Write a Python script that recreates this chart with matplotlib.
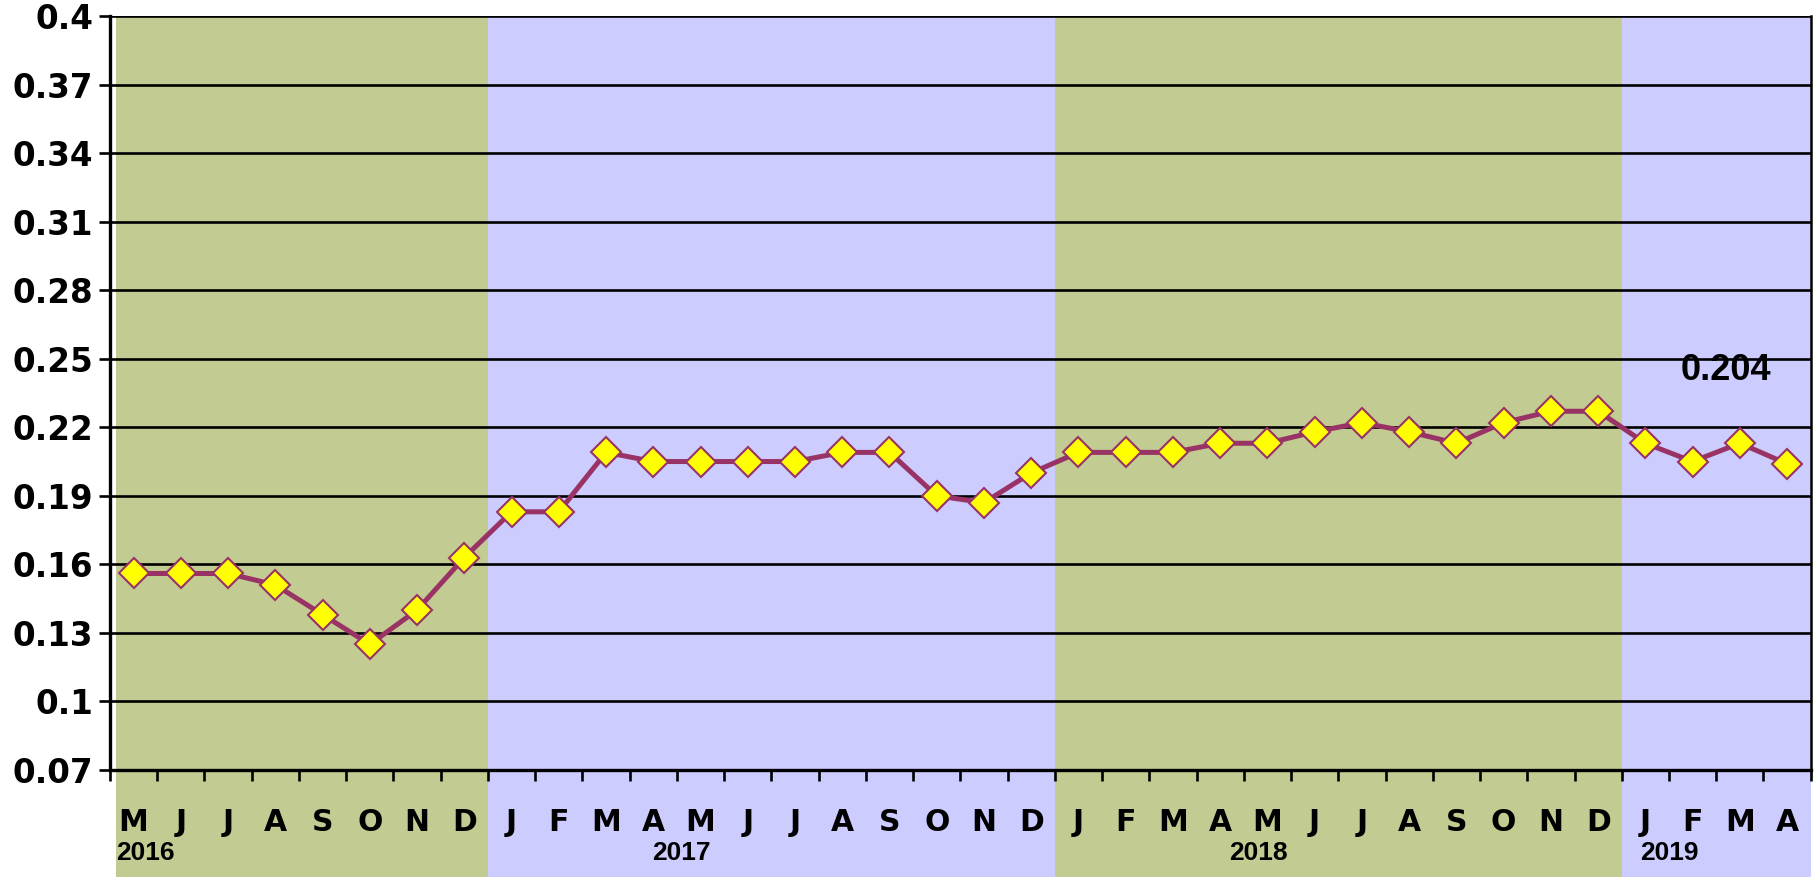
import matplotlib
matplotlib.use('Agg')
from matplotlib import pyplot as plt
from matplotlib.patches import Rectangle

# Месяцы по оси X (май 2016 - апрель 2019)
months = ['M', 'J', 'J', 'A', 'S', 'O', 'N', 'D',
          'J', 'F', 'M', 'A', 'M', 'J', 'J', 'A', 'S', 'O', 'N', 'D',
          'J', 'F', 'M', 'A', 'M', 'J', 'J', 'A', 'S', 'O', 'N', 'D',
          'J', 'F', 'M', 'A']
values = [0.156, 0.156, 0.156, 0.151, 0.138, 0.125, 0.140, 0.163,
          0.183, 0.183, 0.209, 0.205, 0.205, 0.205, 0.205, 0.209, 0.209, 0.190, 0.187, 0.200,
          0.209, 0.209, 0.209, 0.213, 0.213, 0.218, 0.222, 0.218, 0.213, 0.222, 0.227, 0.227,
          0.213, 0.205, 0.213, 0.204]
years = ['2016', '2017', '2018', '2019']
months_per_year = [8, 12, 12, 4]
y_ticks = [0.07, 0.1, 0.13, 0.16, 0.19, 0.22, 0.25, 0.28, 0.31, 0.34, 0.37, 0.4]
y_tick_labels = ['0.07', '0.1', '0.13', '0.16', '0.19', '0.22', '0.25', '0.28',
                 '0.31', '0.34', '0.37', '0.4']
last_label = '0.204'

# Оформление
green = '#C2CB91'
lilac = '#CCCCFF'
plum = '#993366'
year_label_x = [0.25, 11.6, 23.8, 32.5]

fig = plt.figure(figsize=(18.18, 8.77), dpi=100)
ax = fig.add_axes([0.0605, 0.122, 0.9355, 0.8598])
ax.set_facecolor('none')

n = len(months)
ax.set_xlim(-0.5, n - 0.5)
ax.set_ylim(0.07, 0.4)

# Фоновые полосы по годам (тянутся до низа рисунка)
start = -0.5
for i, cnt in enumerate(months_per_year):
    left = start + (0.12 if i == 0 else 0)
    rect = Rectangle((left, -0.15), start + cnt - left, 1.15,
                     transform=ax.get_xaxis_transform(), clip_on=False,
                     facecolor=green if i % 2 == 0 else lilac,
                     edgecolor='none', zorder=0)
    ax.add_patch(rect)
    ax.text(year_label_x[i], -0.11, years[i], transform=ax.get_xaxis_transform(),
            ha='center', va='center', fontsize=19, fontweight='bold',
            family='Liberation Sans', zorder=3)
    start += cnt

# Сетка
for y in y_ticks:
    ax.axhline(y, color='black', linewidth=1.9, zorder=1)

# Линия с маркерами
x = list(range(n))
ax.plot(x, values, color=plum, linewidth=3.6, marker='D', markersize=15.5,
        markerfacecolor='#FFFF00', markeredgecolor=plum, markeredgewidth=1.5,
        zorder=4)

ax.text(33.7, 0.245, last_label, ha='center', va='center', fontsize=26,
        fontweight='bold', family='Liberation Sans', zorder=5)

# Оси
ax.set_yticks(y_ticks)
ax.set_yticklabels(y_tick_labels, fontsize=23.5, fontweight='bold', family='DejaVu Sans')
ax.tick_params(axis='y', length=8, width=1.9, pad=4)

ax.set_xticks([i - 0.5 for i in range(n + 1)])
ax.set_xticklabels([])
ax.tick_params(axis='x', which='major', length=8, width=1.9, direction='out')
ax.set_xticks(x, minor=True)
ax.set_xticklabels(months, minor=True, fontsize=21.5, fontweight='bold',
                   family='DejaVu Sans')
ax.tick_params(axis='x', which='minor', length=0, pad=27)

ax.spines['top'].set_visible(False)
ax.spines['left'].set_linewidth(2.4)
ax.spines['bottom'].set_linewidth(2.4)
ax.spines['right'].set_linewidth(1.8)
for s in ax.spines.values():
    s.set_zorder(3)

fig.savefig('out.png', dpi=100)
